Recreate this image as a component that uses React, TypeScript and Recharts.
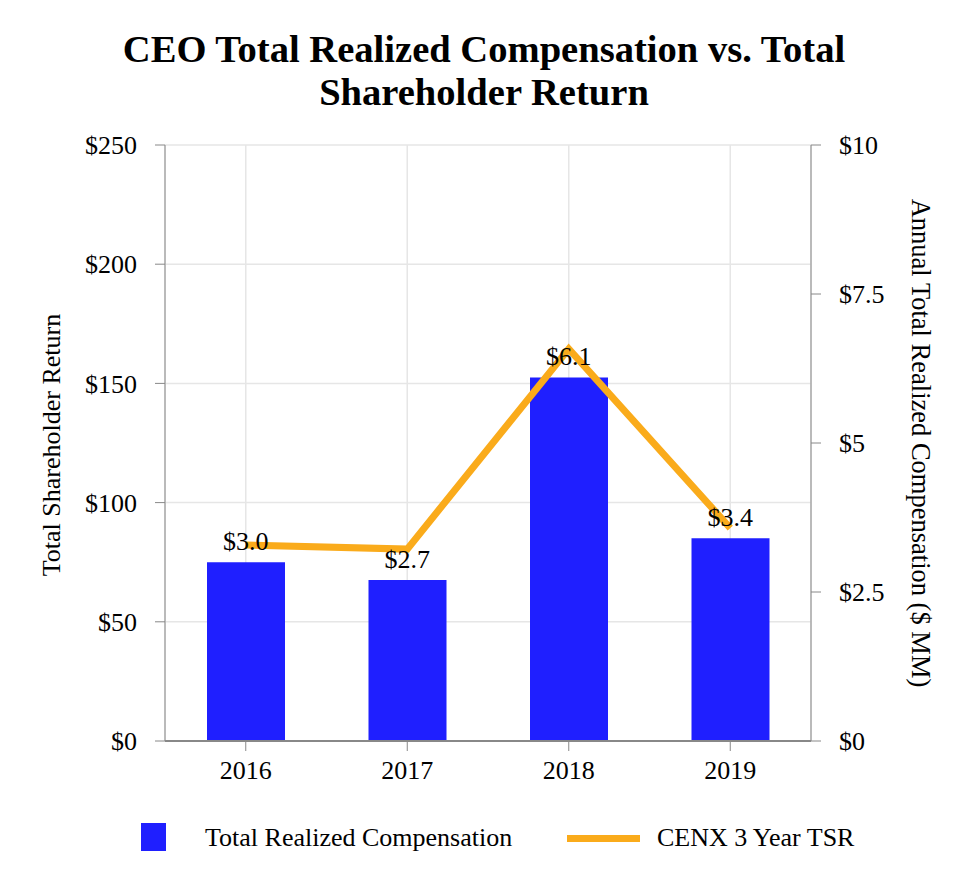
import {
  Bar,
  CartesianGrid,
  ComposedChart,
  LabelList,
  Line,
  XAxis,
  YAxis,
} from "recharts";

// 年ごとの値。報酬は右軸 ($ MM)、TSR は左軸。
const years = ["2016", "2017", "2018", "2019"];
const compensation = [3.0, 2.7, 6.1, 3.4];
const tsr = [82.2, 80.5, 164.5, 89.3];

const leftTicks = [0, 50, 100, 150, 200, 250];
const rightTicks = [0, 2.5, 5, 7.5, 10];

const BLUE = "#1f1fff";
const ORANGE = "#faab1b";
const AXIS = "#888888";
const FONT = "'Liberation Serif', 'Times New Roman', serif";

const rows = years.map((year, i) => ({
  year,
  comp: compensation[i],
  tsr: tsr[i],
}));

const tickStyle = { fill: "#000", fontSize: 26, fontFamily: FONT };

export default function App() {
  return (
    <div
      style={{
        position: "absolute",
        left: 0,
        top: 0,
        width: 968,
        height: 892,
        background: "#fff",
        fontFamily: FONT,
        color: "#000",
      }}
    >
      <div
        style={{
          position: "absolute",
          left: 0,
          width: 968,
          top: 28,
          textAlign: "center",
          fontSize: 38.6,
          fontWeight: "bold",
          lineHeight: "43px",
        }}
      >
        CEO Total Realized Compensation vs. Total
        <br />
        Shareholder Return
      </div>

      <ComposedChart
        width={968}
        height={892}
        data={rows}
        margin={{ top: 145, right: 97, bottom: 111, left: 105 }}
      >
        <CartesianGrid yAxisId="left" stroke="#e6e6e6" strokeWidth={1.5} />
        <XAxis
          dataKey="year"
          height={40}
          tick={tickStyle}
          tickSize={10}
          tickMargin={10}
          axisLine={{ stroke: AXIS, strokeWidth: 2 }}
          tickLine={{ stroke: AXIS }}
        />
        <YAxis
          yAxisId="left"
          width={60}
          domain={[0, 250]}
          ticks={leftTicks}
          tickFormatter={(v: number) => `$${v}`}
          tick={tickStyle}
          tickSize={10}
          tickMargin={18}
          axisLine={{ stroke: AXIS }}
          tickLine={{ stroke: AXIS }}
        />
        <YAxis
          yAxisId="right"
          orientation="right"
          width={60}
          domain={[0, 10]}
          ticks={rightTicks}
          tickFormatter={(v: number) => `$${v}`}
          tick={tickStyle}
          tickSize={10}
          tickMargin={18}
          axisLine={{ stroke: AXIS }}
          tickLine={{ stroke: AXIS }}
        />
        <Bar
          yAxisId="right"
          dataKey="comp"
          fill={BLUE}
          barSize={78}
          isAnimationActive={false}
        />
        <Line
          yAxisId="left"
          type="linear"
          dataKey="tsr"
          stroke={ORANGE}
          strokeWidth={7}
          dot={false}
          activeDot={false}
          isAnimationActive={false}
        />
        {/* ラベルを線より手前に出すための透明な系列 */}
        <Line
          yAxisId="right"
          type="linear"
          dataKey="comp"
          stroke="none"
          dot={false}
          activeDot={false}
          legendType="none"
          isAnimationActive={false}
        >
          <LabelList
            dataKey="comp"
            position="top"
            offset={12}
            formatter={(v: number) => `$${v.toFixed(1)}`}
            style={{ fill: "#000", fontSize: 26, fontFamily: FONT }}
          />
        </Line>
      </ComposedChart>

      <div
        style={{
          position: "absolute",
          left: 52,
          top: 445,
          transform: "translate(-50%, -50%) rotate(-90deg)",
          whiteSpace: "nowrap",
          fontSize: 26,
        }}
      >
        Total Shareholder Return
      </div>
      <div
        style={{
          position: "absolute",
          left: 920,
          top: 443,
          transform: "translate(-50%, -50%) rotate(90deg)",
          whiteSpace: "nowrap",
          fontSize: 26.5,
        }}
      >
        Annual Total Realized Compensation ($ MM)
      </div>

      <div
        style={{
          position: "absolute",
          left: 141,
          top: 823,
          width: 25,
          height: 28,
          background: BLUE,
        }}
      />
      <div
        style={{
          position: "absolute",
          left: 205,
          top: 823,
          lineHeight: "30px",
          fontSize: 26,
          whiteSpace: "nowrap",
        }}
      >
        Total Realized Compensation
      </div>
      <div
        style={{
          position: "absolute",
          left: 567,
          top: 835,
          width: 73,
          height: 7,
          background: ORANGE,
        }}
      />
      <div
        style={{
          position: "absolute",
          left: 657,
          top: 823,
          lineHeight: "30px",
          fontSize: 26,
          whiteSpace: "nowrap",
        }}
      >
        CENX 3 Year TSR
      </div>
    </div>
  );
}
